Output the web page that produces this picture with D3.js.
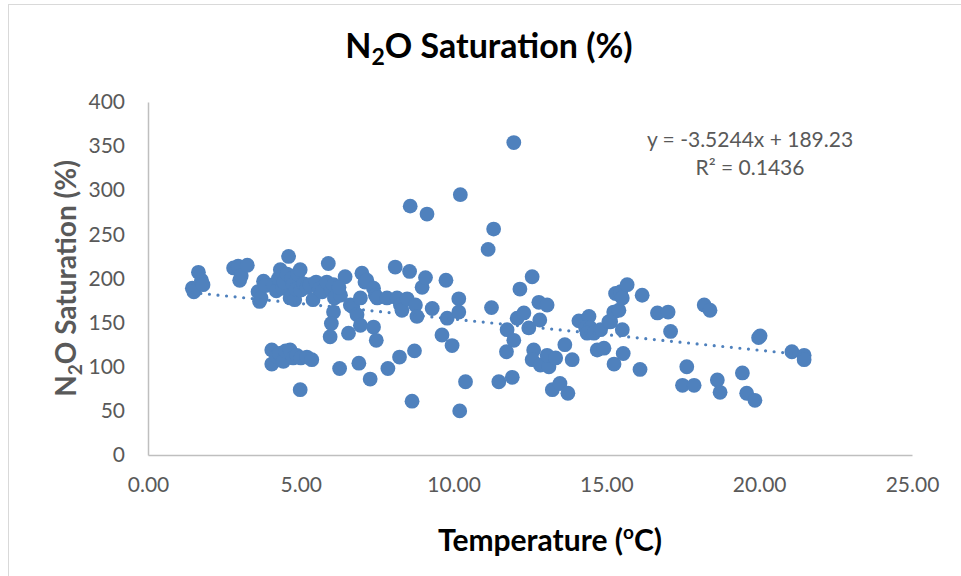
<!DOCTYPE html>
<html>
<head>
<meta charset="utf-8">
<script src="https://cdn.jsdelivr.net/npm/d3@7"></script>
<style>
  body { margin: 0; background: #fff; }
  svg { display: block; }
</style>
</head>
<body>
<script>
// temperature (oC) and N2O saturation (%)
const temperature = [
  1.45, 1.5, 1.65, 1.75, 1.8,
  2.8, 2.95, 3.0, 3.05, 3.25,
  3.6, 3.65, 3.7, 3.78, 3.85,
  4.1, 4.2, 4.27, 4.33, 4.4, 4.45, 4.55, 4.6, 4.65, 4.7, 4.75, 4.8, 4.85, 4.9, 4.98, 5.0,
  5.1, 5.2, 5.3, 5.4, 5.5, 5.6, 5.7, 5.85, 5.9, 6.0, 6.07, 6.1, 6.3, 6.45, 6.25,
  4.05, 4.05, 4.2, 4.3, 4.43, 4.5, 4.65, 4.75, 4.87, 5.0, 5.2, 5.36, 4.98,
  6.07, 6.0, 5.96, 6.27, 6.56, 6.62, 6.7, 6.84, 6.9, 6.95, 6.95, 7.0, 7.1, 7.16, 7.27,
  7.38, 7.38, 7.44, 7.47, 7.5,
  7.82, 7.85, 8.09, 8.15, 8.23, 8.26, 8.31, 8.48, 8.56, 8.58, 8.64, 8.72, 8.75, 8.8,
  8.97, 9.08, 9.13, 9.3,
  9.62, 9.75, 9.79, 9.95, 10.17, 10.17, 10.2, 10.22, 10.39,
  11.13, 11.24, 11.31, 11.48, 11.73, 11.75, 11.92, 11.97, 11.97, 12.08, 12.17, 12.3,
  12.46, 12.57, 12.62, 12.57, 12.79, 12.82, 12.84, 13.06, 13.12, 13.06, 13.23, 13.34,
  13.48, 13.64, 13.74, 13.88,
  14.1, 14.43, 14.32, 14.48, 14.37, 14.59, 14.7, 14.81, 14.92, 15.08, 15.14, 15.24,
  15.3, 15.25, 15.41, 15.47, 15.52, 15.52, 15.55, 15.68,
  16.1, 16.17, 16.67, 17.02, 17.1, 17.49, 17.63, 17.87, 18.2, 18.39, 18.63, 18.72,
  19.45, 19.59, 19.86, 20.03, 19.98, 21.07, 21.47, 21.47
];
const saturation = [
  189, 185, 207, 198, 193,
  212, 214, 198, 203, 215,
  185, 174, 178, 197, 192,
  193, 186, 200, 210, 189, 196, 205, 225, 178, 200, 193, 176, 188, 205, 210, 187,
  194, 190, 193, 176, 196, 188, 185, 196, 217, 187, 193, 178, 181, 202, 190,
  119, 103, 112, 115, 106, 118, 119, 110, 113, 110, 111, 108, 74,
  162, 149, 134, 98, 138, 170, 168, 159, 104, 178, 147, 206, 196, 198, 86,
  189, 145, 181, 130, 178,
  178, 98, 213, 178, 111, 170, 164, 177, 208, 282, 61, 118, 170, 157,
  190, 201, 273, 166,
  136, 198, 155, 124, 177, 162, 50, 295, 83,
  233, 167, 256, 83, 117, 142, 88, 130, 354, 155, 188, 161,
  144, 202, 119, 108, 173, 153, 102, 170, 100, 113, 74, 110,
  81, 125, 70, 108,
  152, 157, 144, 144, 138, 138, 119, 142, 121, 151, 151, 162,
  183, 103, 164, 185, 178, 142, 115, 193,
  97, 181, 161, 162, 140, 79, 100, 79, 170, 164, 85, 71,
  93, 70, 62, 135, 133, 117, 113, 108
];
const xTicks = [0, 5, 10, 15, 20, 25];
const yTicks = [0, 50, 100, 150, 200, 250, 300, 350, 400];

// linear trendline as reported on the chart
const slope = -3.5244;
const intercept = 189.23;
const rSquared = 0.1436;

const points = temperature.map((t, i) => ({ t: t, s: saturation[i] }));

let margin = { top: 102, right: 49, bottom: 121, left: 148 },
  width = 961 - margin.left - margin.right,
  height = 576 - margin.top - margin.bottom;

let color = "#4F81BD",
  textGrey = "#595959",
  font = "Lato, 'Open Sans', sans-serif";

let x = d3.scaleLinear().domain([0, 25]).range([0, width]);
let y = d3.scaleLinear().domain([0, 400]).range([height, 0]);

let root = d3.select("body")
  .append("svg")
  .attr("width", 961)
  .attr("height", 576)
  .style("font-family", font);

// chart area border
root.append("rect")
  .attr("x", 8.5)
  .attr("y", 4.5)
  .attr("width", 970)
  .attr("height", 590)
  .attr("fill", "none")
  .attr("stroke", "#D9D9D9");

let svg = root.append("g")
  .attr("transform", "translate(" + margin.left + "," + margin.top + ")");

// axes
let yAxis = svg.append("g")
  .call(d3.axisLeft(y).tickValues(yTicks).tickSize(0).tickPadding(23));
let xAxis = svg.append("g")
  .attr("transform", "translate(0," + height + ")")
  .call(d3.axisBottom(x).tickValues(xTicks).tickSize(0).tickPadding(22)
    .tickFormat(d3.format(".2f")));

[xAxis, yAxis].forEach(a => {
  a.select(".domain").attr("stroke", "#BFBFBF").attr("stroke-width", 1.5);
  a.selectAll("text")
    .attr("fill", textGrey)
    .style("font-size", "21px")
    .style("font-family", font);
});

// markers
svg.append("g")
  .selectAll("circle")
  .data(points)
  .enter()
  .append("circle")
  .attr("cx", d => x(d.t))
  .attr("cy", d => y(d.s))
  .attr("r", 7.4)
  .attr("fill", color);

// trendline
let tExtent = d3.extent(temperature);
svg.append("line")
  .attr("x1", x(tExtent[0]))
  .attr("y1", y(slope * tExtent[0] + intercept))
  .attr("x2", x(tExtent[1]))
  .attr("y2", y(slope * tExtent[1] + intercept))
  .attr("stroke", color)
  .attr("stroke-width", 3.2)
  .attr("stroke-linecap", "round")
  .attr("stroke-dasharray", "0,8.6");

// trendline label
let eq = svg.append("text")
  .attr("x", 602)
  .attr("y", 45)
  .attr("fill", textGrey)
  .style("font-size", "21px")
  .style("text-anchor", "middle");
eq.append("tspan")
  .text("y = " + slope + "x + " + intercept);
eq.append("tspan")
  .attr("x", 602)
  .attr("dy", 28)
  .text("R\u00B2 = " + rSquared);

// chart title
let title = root.append("text")
  .attr("x", 489)
  .attr("y", 58)
  .style("font-size", "34px")
  .style("font-weight", "bold")
  .style("text-anchor", "middle")
  .attr("fill", "#000");
title.append("tspan").text("N");
title.append("tspan").text("2").style("font-size", "23px").attr("dy", 7);
title.append("tspan").text("O Saturation (%)").attr("dy", -7);

// x axis title
let xTitle = root.append("text")
  .attr("x", 550)
  .attr("y", 551)
  .style("font-size", "30px")
  .style("font-weight", "bold")
  .style("text-anchor", "middle")
  .attr("fill", "#000");
xTitle.append("tspan").text("Temperature (");
xTitle.append("tspan").text("o").style("font-size", "19px").attr("dy", -12);
xTitle.append("tspan").text("C)").attr("dy", 12);

// y axis title
let yTitle = root.append("text")
  .attr("transform", "translate(76," + (margin.top + height / 2) + ") rotate(-90)")
  .style("font-size", "28px")
  .style("font-weight", "bold")
  .style("text-anchor", "middle")
  .attr("fill", textGrey);
yTitle.append("tspan").text("N");
yTitle.append("tspan").text("2").style("font-size", "19px").attr("dy", 6);
yTitle.append("tspan").text("O Saturation (%)").attr("dy", -6);
</script>
</body>
</html>
